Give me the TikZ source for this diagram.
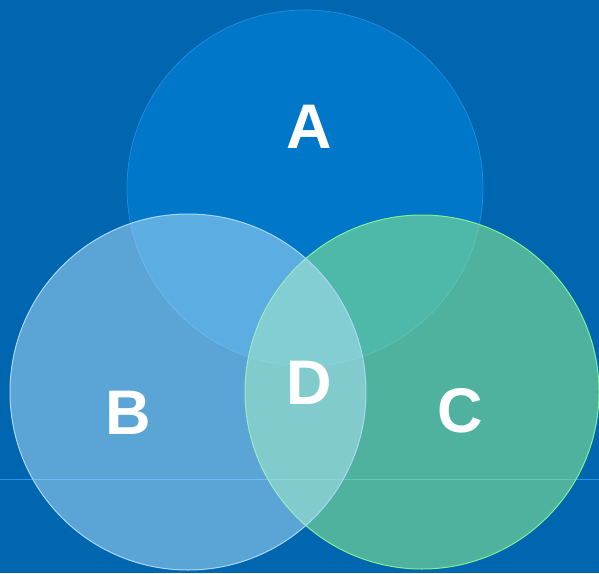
\documentclass[tikz,border=0pt]{standalone}
\usepackage{fontspec}
\setmainfont{Liberation Sans}
\usepackage{tikz}
\definecolor{fundo}{RGB}{0,102,176}
\definecolor{corA}{RGB}{0,119,200}
\definecolor{bordaA}{RGB}{30,140,220}
\definecolor{corB}{RGB}{182,228,252}
\definecolor{bordaB}{RGB}{170,215,245}
\definecolor{corC}{RGB}{133,229,149}
\definecolor{bordaC}{RGB}{130,240,145}
\definecolor{linha}{RGB}{45,150,235}
\tikzset{
  rotulo/.style={text=white, font=\fontsize{63}{65}\selectfont\bfseries, inner sep=0pt}
}

\begin{document}
\begin{tikzpicture}[x=1pt, y=-1pt]
    % --- Fundo ---
    \fill[fundo] (0,0) rectangle (599,573);
    \useasboundingbox (0,0) rectangle (599,573);
    \draw[linha, line width=1pt] (0,479) -- (599,479);
    % --- Conjuntos ---
    \filldraw[fill=corA, draw=bordaA, line width=0.8pt] (305,188) circle (178);
    \filldraw[fill=corC, fill opacity=0.6, draw=bordaC, line width=1pt] (422,392) circle (177);
    \filldraw[fill=corB, fill opacity=0.5, draw=bordaB, line width=1pt] (188,392) circle (178);
    % --- Rotulos ---
    \node[rotulo] (a) at (309,127) {A};
    \node[rotulo] (b) at (128,413) {B};
    \node[rotulo] (c) at (460,411) {C};
    \node[rotulo] (d) at (309,383) {D};
\end{tikzpicture}
\end{document}
